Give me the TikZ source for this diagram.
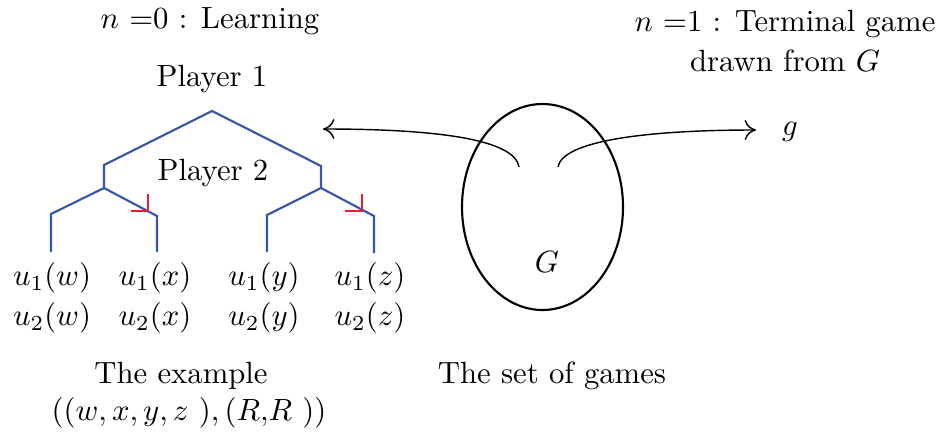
\RequirePackage{fix-cm}
\documentclass[tikz,border=0pt]{standalone}
\usetikzlibrary{arrows.meta,shapes.geometric}
\definecolor{treeblue}{RGB}{55,85,170}
\definecolor{markred}{RGB}{235,30,45}
\begin{document}
\begin{tikzpicture}[x=0.3516pt,y=-0.3516pt,
  branch/.style={draw=treeblue,line width=0.75pt},
  redmark/.style={draw=markred,line width=0.75pt},
  conn/.style={draw=black,line width=0.5pt,-{To[length=4pt,width=7pt]}},
  lbl/.style={inner sep=0pt,font=\fontsize{10.8pt}{13pt}\selectfont}]
\useasboundingbox (0,0) rectangle (941,433);

% titles
\node[lbl] (t0) at (210,21) {$n\ {=}0$ : Learning};
\node[lbl,align=center] (t1) at (785,41) {$n\ {=}1$ : Terminal game\\[1pt] drawn from $G$};

% tree
\coordinate (r) at (212,111);
\coordinate (la) at (104,165);
\coordinate (lb) at (104,188);
\coordinate (ra) at (321,166);
\coordinate (rb) at (321,188);
\coordinate (l1a) at (51,214);
\coordinate (l1b) at (51,252);
\coordinate (l2a) at (157,216);
\coordinate (l2b) at (157,252);
\coordinate (r1a) at (267,215);
\coordinate (r1b) at (267,252);
\coordinate (r2a) at (374,216);
\coordinate (r2b) at (374,253);

\draw[branch] (lb) -- (la) -- (r) -- (ra) -- (rb);
\draw[branch] (l1b) -- (l1a) -- (lb) -- (l2a) -- (l2b);
\draw[branch] (r1b) -- (r1a) -- (rb) -- (r2a) -- (r2b);

% red marks
\coordinate (m1) at (148,211);
\coordinate (m2) at (362,211);
\draw[redmark] (131,211) -- (m1) -- (148,194);
\draw[redmark] (345,211) -- (m2) -- (362,194);

\node[lbl] (p1) at (212,79) {Player 1};
\node[lbl] (p2) at (213,173) {Player 2};

% payoffs
\node[lbl] (a1) at (52,278) {$u_1(w)$};
\node[lbl] (b1) at (155,278) {$u_1(x)$};
\node[lbl] (c1) at (264,278) {$u_1(y)$};
\node[lbl] (d1) at (370,278) {$u_1(z)$};
\node[lbl] (a2) at (52,318) {$u_2(w)$};
\node[lbl] (b2) at (155,318) {$u_2(x)$};
\node[lbl] (c2) at (264,318) {$u_2(y)$};
\node[lbl] (d2) at (370,318) {$u_2(z)$};

\node[lbl] (ex) at (181,376) {The example};
\node[lbl] (exv) at (189,413) {$((w{,}\,x{,}\,y{,}\,z\ ){,}\,(R{,}R\ ))$};

% set of games
\node[draw,ellipse,line width=0.75pt,minimum width=161*0.3516pt,minimum height=206*0.3516pt,inner sep=0pt] (set) at (542.5,207) {};
\node[lbl] (G) at (547,262) {$G$};
\node[lbl] (sg) at (552,376) {The set of games};

\node[lbl] (g) at (790,132) {$g$};
\coordinate (sl) at (519,167);
\coordinate (sr) at (558,167);
\coordinate (el) at (323,129);
\coordinate (er) at (756,130);
\draw[conn] (sl) .. controls (515,140) and (440,129) .. (el);
\draw[conn] (sr) .. controls (562,142) and (640,130) .. (er);
\end{tikzpicture}
\end{document}
